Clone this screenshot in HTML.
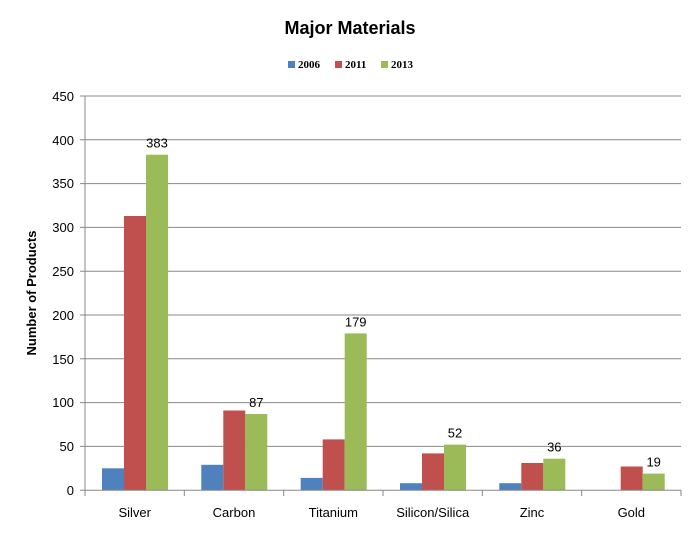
<!DOCTYPE html>
<html><head><style>body{margin:0;background:#fff}</style></head><body>
<svg width="700" height="532" xmlns="http://www.w3.org/2000/svg" font-family="Liberation Sans, sans-serif">
<rect width="700" height="532" fill="#fff"/>
<text x="350" y="34" text-anchor="middle" font-size="18" font-weight="bold">Major Materials</text>
<g font-size="11" font-weight="bold" font-family="Liberation Serif, serif">
<rect x="288" y="61" width="7" height="7" fill="#4f81bd"/><text x="298" y="68">2006</text>
<rect x="335" y="61" width="7" height="7" fill="#c0504d"/><text x="345" y="68">2011</text>
<rect x="381" y="61" width="7" height="7" fill="#9bbb59"/><text x="391" y="68">2013</text>
</g>
<g stroke="#888" stroke-width="1">
<line x1="80" x2="681" y1="96" y2="96"/><line x1="80" x2="681" y1="139.8" y2="139.8"/>
<line x1="80" x2="681" y1="183.6" y2="183.6"/><line x1="80" x2="681" y1="227.4" y2="227.4"/>
<line x1="80" x2="681" y1="271.2" y2="271.2"/><line x1="80" x2="681" y1="315" y2="315"/>
<line x1="80" x2="681" y1="358.8" y2="358.8"/><line x1="80" x2="681" y1="402.6" y2="402.6"/>
<line x1="80" x2="681" y1="446.4" y2="446.4"/>
</g>
<g font-size="13" text-anchor="end" fill="#000">
<text x="74" y="101">450</text><text x="74" y="145">400</text><text x="74" y="188">350</text>
<text x="74" y="232">300</text><text x="74" y="276">250</text><text x="74" y="320">200</text>
<text x="74" y="364">150</text><text x="74" y="407">100</text><text x="74" y="451">50</text><text x="74" y="495">0</text>
</g>
<text transform="translate(36,293) rotate(-90)" text-anchor="middle" font-size="13" font-weight="bold">Number of Products</text>
<g>
<rect x="102" y="468.3" width="22" height="21.9" fill="#4f81bd"/>
<rect x="124" y="216" width="22" height="274.2" fill="#c0504d"/>
<rect x="146" y="154.7" width="22" height="335.5" fill="#9bbb59"/>
<rect x="201.3" y="464.8" width="22" height="25.4" fill="#4f81bd"/>
<rect x="223.3" y="410.5" width="22" height="79.7" fill="#c0504d"/>
<rect x="245.3" y="414" width="22" height="76.2" fill="#9bbb59"/>
<rect x="300.7" y="477.9" width="22" height="12.3" fill="#4f81bd"/>
<rect x="322.7" y="439.4" width="22" height="50.8" fill="#c0504d"/>
<rect x="344.7" y="333.4" width="22" height="156.8" fill="#9bbb59"/>
<rect x="400" y="483.2" width="22" height="7" fill="#4f81bd"/>
<rect x="422" y="453.4" width="22" height="36.8" fill="#c0504d"/>
<rect x="444" y="444.6" width="22" height="45.6" fill="#9bbb59"/>
<rect x="499.3" y="483.2" width="22" height="7" fill="#4f81bd"/>
<rect x="521.3" y="463" width="22" height="27.2" fill="#c0504d"/>
<rect x="543.3" y="458.7" width="22" height="31.5" fill="#9bbb59"/>
<rect x="620.7" y="466.5" width="22" height="23.7" fill="#c0504d"/>
<rect x="642.7" y="473.6" width="22" height="16.6" fill="#9bbb59"/>
</g>
<g font-size="13" text-anchor="middle">
<text x="157" y="147.7">383</text>
<text x="256.3" y="407">87</text>
<text x="355.7" y="326.4">179</text>
<text x="455" y="437.6">52</text>
<text x="554.3" y="451.7">36</text>
<text x="653.7" y="466.6">19</text>
<text x="134.7" y="517">Silver</text>
<text x="234" y="517">Carbon</text>
<text x="333.3" y="517">Titanium</text>
<text x="432.7" y="517">Silicon/Silica</text>
<text x="532" y="517">Zinc</text>
<text x="631.3" y="517">Gold</text>
</g>
<g stroke="#888">
<line x1="184.3" x2="184.3" y1="490" y2="496"/><line x1="283.7" x2="283.7" y1="490" y2="496"/>
<line x1="383" x2="383" y1="490" y2="496"/><line x1="482.3" x2="482.3" y1="490" y2="496"/>
<line x1="581.7" x2="581.7" y1="490" y2="496"/><line x1="681" x2="681" y1="490" y2="496"/>
<line x1="85" x2="85" y1="96" y2="496"/>
<line x1="80" x2="681" y1="490.2" y2="490.2"/>
</g>
</svg>
</body></html>
